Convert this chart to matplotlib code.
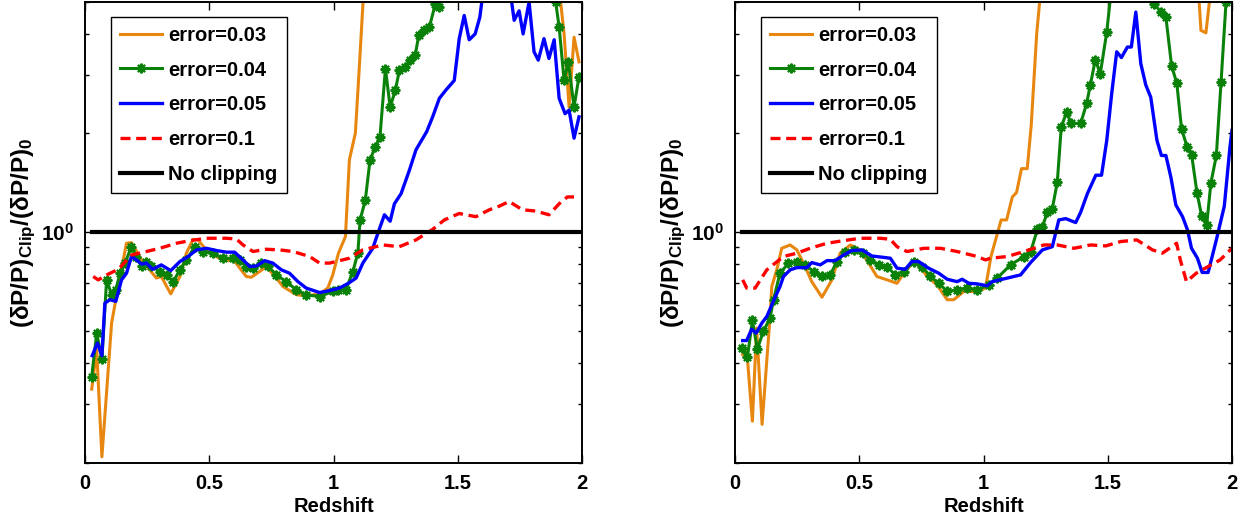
import matplotlib
matplotlib.use("Agg")
import matplotlib.pyplot as plt
import numpy as np
from matplotlib.ticker import LogLocator, NullFormatter

# ---- data (redshift, ratio) ----
# left panel
L_z_03 = [0.027, 0.047, 0.068, 0.107, 0.141, 0.167, 0.187, 0.228, 0.287, 0.307, 0.345, 0.382, 0.408, 0.435,
          0.455, 0.488, 0.52, 0.56, 0.60, 0.649, 0.669, 0.703, 0.729, 0.77, 0.797, 0.851, 0.89, 0.944, 0.977,
          0.997, 1.02, 1.048, 1.064, 1.088, 1.104, 1.13, 1.90, 1.914, 1.928, 1.948, 1.968, 1.988]
L_v_03 = [0.334, 0.44, 0.208, 0.53, 0.734, 0.926, 0.93, 0.824, 0.726, 0.734, 0.65, 0.734, 0.864, 0.952,
          0.948, 0.884, 0.85, 0.82, 0.82, 0.734, 0.73, 0.76, 0.787, 0.726, 0.684, 0.646, 0.641, 0.65, 0.677,
          0.742, 0.864, 0.97, 1.66, 2.0, 3.18, 7.0, 7.0, 5.0, 4.0, 2.4, 3.91, 3.29]

L_z_04 = [0.027, 0.047, 0.068, 0.087, 0.107, 0.124, 0.141, 0.161, 0.187, 0.207, 0.228, 0.247, 0.267, 0.301,
          0.328, 0.355, 0.382, 0.408, 0.442, 0.475, 0.515, 0.555, 0.596, 0.622, 0.649, 0.676, 0.709, 0.736,
          0.77, 0.81, 0.85, 0.89, 0.944, 0.997, 1.02, 1.05, 1.078, 1.098, 1.107, 1.128, 1.147, 1.169, 1.187,
          1.209, 1.228, 1.249, 1.265, 1.289, 1.308, 1.329, 1.343, 1.365, 1.386, 1.41, 1.426, 1.45, 1.88,
          1.894, 1.908, 1.928, 1.945, 1.968, 1.988]
L_v_04 = [0.364, 0.494, 0.412, 0.717, 0.646, 0.669, 0.751, 0.806, 0.904, 0.84, 0.79, 0.815, 0.79, 0.76,
          0.742, 0.708, 0.769, 0.824, 0.904, 0.874, 0.864, 0.834, 0.834, 0.824, 0.787, 0.778, 0.806, 0.79,
          0.742, 0.708, 0.669, 0.646, 0.638, 0.661, 0.669, 0.669, 0.76, 0.864, 1.09, 1.25, 1.66, 1.82, 1.95,
          3.14, 2.4, 2.70, 3.1, 3.18, 3.33, 3.45, 3.96, 4.1, 4.2, 4.94, 4.83, 6.0, 6.0,
          5.0, 4.2, 2.89, 3.29, 2.4, 2.97]

L_z_05 = [0.029, 0.05, 0.068, 0.08, 0.1, 0.124, 0.147, 0.167, 0.187, 0.207, 0.228, 0.247, 0.272, 0.307,
          0.345, 0.382, 0.415, 0.449, 0.489, 0.529, 0.569, 0.602, 0.636, 0.663, 0.69, 0.723, 0.756, 0.79,
          0.823, 0.857, 0.89, 0.944, 0.984, 1.024, 1.06, 1.091, 1.118, 1.158, 1.178, 1.205, 1.228, 1.245,
          1.272, 1.305, 1.332, 1.375, 1.399, 1.426, 1.452, 1.486, 1.506, 1.526, 1.546, 1.57, 1.589, 1.61,
          1.70, 1.717, 1.727, 1.747, 1.763, 1.787, 1.807, 1.824, 1.847, 1.867, 1.888, 1.908, 1.932, 1.948,
          1.968, 1.988]
L_v_05 = [0.422, 0.461, 0.422, 0.609, 0.624, 0.617, 0.717, 0.751, 0.844, 0.824, 0.80, 0.806, 0.772, 0.796,
          0.765, 0.815, 0.844, 0.884, 0.894, 0.88, 0.87, 0.87, 0.824, 0.787, 0.79, 0.82, 0.806, 0.769,
          0.751, 0.708, 0.677, 0.656, 0.665, 0.677, 0.70, 0.726, 0.806, 0.894, 0.99, 1.13, 1.08, 1.22,
          1.31, 1.54, 1.78, 2.02, 2.24, 2.55, 2.70, 2.89, 3.87, 4.55, 3.84, 4.0, 4.5, 6.0,
          6.0, 5.0, 4.4, 4.7, 4.0, 5.0, 3.53, 3.33, 3.87, 3.37, 3.84, 2.55, 2.29, 2.35,
          1.93, 2.24]

L_z_10 = [0.033, 0.053, 0.087, 0.134, 0.187, 0.247, 0.301, 0.368, 0.422, 0.488, 0.569, 0.609, 0.636, 0.676,
          0.729, 0.783, 0.837, 0.904, 0.944, 0.984, 1.064, 1.118, 1.199, 1.265, 1.332, 1.399, 1.446, 1.506,
          1.573, 1.627, 1.667, 1.707, 1.76, 1.813, 1.867, 1.908, 1.941, 1.968]
L_v_10 = [0.734, 0.717, 0.742, 0.772, 0.853, 0.874, 0.894, 0.926, 0.943, 0.959, 0.959, 0.954, 0.915, 0.874,
          0.888, 0.884, 0.874, 0.844, 0.806, 0.806, 0.834, 0.884, 0.915, 0.904, 0.948, 1.02, 1.09, 1.14,
          1.115, 1.17, 1.2, 1.24, 1.17, 1.16, 1.13, 1.22, 1.28, 1.28]

# right panel
R_z_03 = [0.031, 0.047, 0.07, 0.087, 0.109, 0.141, 0.148, 0.168, 0.188, 0.222, 0.249, 0.282, 0.309, 0.35,
          0.39, 0.423, 0.464, 0.504, 0.538, 0.571, 0.612, 0.652, 0.679, 0.726, 0.773, 0.813, 0.854, 0.88,
          0.921, 0.975, 1.008, 1.03, 1.071, 1.093, 1.116, 1.133, 1.153, 1.176, 1.192, 1.214, 1.24, 1.86,
          1.868, 1.875, 1.895, 1.909, 1.93]
R_v_03 = [0.425, 0.44, 0.267, 0.512, 0.261, 0.555, 0.684, 0.769, 0.894, 0.915, 0.884, 0.787, 0.708, 0.635,
          0.717, 0.864, 0.915, 0.884, 0.806, 0.734, 0.717, 0.70, 0.751, 0.824, 0.734, 0.692, 0.624, 0.624,
          0.661, 0.661, 0.677, 0.844, 1.09, 1.09, 1.28, 1.32, 1.56, 1.56, 2.11, 4.0, 6.5, 6.5,
          5.0, 4.1, 4.03, 5.0, 6.5]

R_z_04 = [0.027, 0.05, 0.07, 0.09, 0.114, 0.141, 0.155, 0.181, 0.215, 0.249, 0.282, 0.316, 0.35, 0.383,
          0.41, 0.444, 0.477, 0.517, 0.544, 0.578, 0.612, 0.645, 0.679, 0.719, 0.753, 0.786, 0.82, 0.854,
          0.894, 0.934, 0.975, 1.021, 1.055, 1.109, 1.163, 1.19, 1.217, 1.237, 1.257, 1.277, 1.297, 1.313,
          1.335, 1.351, 1.391, 1.415, 1.43, 1.45, 1.47, 1.496, 1.52, 1.67, 1.687, 1.714, 1.734, 1.757,
          1.778, 1.797, 1.819, 1.838, 1.859, 1.878, 1.898, 1.915, 1.937, 1.956, 1.976, 1.99]
R_v_04 = [0.445, 0.418, 0.54, 0.442, 0.5, 0.549, 0.624, 0.751, 0.806, 0.815, 0.796, 0.76, 0.734, 0.742,
          0.815, 0.874, 0.884, 0.864, 0.824, 0.796, 0.787, 0.742, 0.76, 0.815, 0.787, 0.734, 0.70, 0.661,
          0.669, 0.677, 0.669, 0.692, 0.726, 0.796, 0.844, 0.874, 1.02, 1.04, 1.15, 1.18, 1.42, 2.09,
          2.32, 2.14, 2.14, 2.46, 2.80, 3.34, 3.03, 4.05, 6.0, 6.0, 4.93, 4.66, 4.5, 3.2,
          2.83, 2.06, 1.82, 1.71, 1.32, 1.12, 1.05, 1.41, 1.71, 2.86, 5.0, 6.5]

R_z_05 = [0.031, 0.047, 0.067, 0.085, 0.108, 0.128, 0.157, 0.181, 0.195, 0.222, 0.249, 0.289, 0.309, 0.343,
          0.37, 0.403, 0.437, 0.47, 0.511, 0.551, 0.592, 0.625, 0.652, 0.685, 0.712, 0.739, 0.779, 0.82,
          0.854, 0.894, 0.914, 0.941, 0.975, 1.015, 1.035, 1.096, 1.122, 1.149, 1.19, 1.237, 1.277, 1.303,
          1.331, 1.371, 1.391, 1.418, 1.452, 1.475, 1.496, 1.516, 1.536, 1.555, 1.579, 1.595, 1.613, 1.633,
          1.653, 1.673, 1.698, 1.716, 1.734, 1.754, 1.774, 1.801, 1.821, 1.837, 1.861, 1.88, 1.904, 1.937,
          1.969, 1.992, 2.0]
R_v_05 = [0.469, 0.469, 0.508, 0.494, 0.53, 0.555, 0.624, 0.684, 0.734, 0.769, 0.781, 0.781, 0.809, 0.796,
          0.82, 0.82, 0.853, 0.88, 0.884, 0.847, 0.84, 0.834, 0.778, 0.772, 0.815, 0.815, 0.778, 0.751,
          0.72, 0.708, 0.72, 0.70, 0.697, 0.688, 0.708, 0.726, 0.734, 0.742, 0.81, 0.884, 0.904, 1.09,
          1.10, 1.07, 1.15, 1.31, 1.49, 1.49, 1.90, 2.64, 3.53, 3.39, 3.65, 3.65, 4.66, 3.25,
          2.80, 2.57, 1.90, 1.71, 1.71, 1.47, 1.21, 1.115, 1.016, 0.894, 0.834, 0.755, 0.755, 0.948,
          1.20, 1.82, 2.04]

R_z_10 = [0.031, 0.047, 0.081, 0.128, 0.195, 0.249, 0.302, 0.37, 0.437, 0.504, 0.585, 0.625, 0.652, 0.692,
          0.76, 0.827, 0.894, 0.975, 1.008, 1.028, 1.096, 1.163, 1.243, 1.297, 1.364, 1.431, 1.492, 1.552,
          1.617, 1.68, 1.72, 1.777, 1.792, 1.817, 1.856, 1.904, 1.952, 2.0]
R_v_10 = [0.717, 0.677, 0.677, 0.769, 0.844, 0.864, 0.894, 0.926, 0.943, 0.959, 0.959, 0.952, 0.904, 0.874,
          0.894, 0.894, 0.874, 0.844, 0.824, 0.834, 0.844, 0.874, 0.915, 0.915, 0.894, 0.915, 0.909, 0.937,
          0.948, 0.884, 0.864, 0.926, 0.824, 0.708, 0.751, 0.787, 0.824, 0.894]

L_z_ref = [0.03, 1.99]
R_z_ref = [0.03, 2.0]
ref_v = [1.0, 1.0]

labels = ["error=0.03", "error=0.04", "error=0.05", "error=0.1", "No clipping"]
xticks = [0, 0.5, 1, 1.5, 2]
xticklabels = ["0", "0.5", "1", "1.5", "2"]

plt.rcParams["font.family"] = ["Liberation Sans", "DejaVu Sans"]
plt.rcParams["font.weight"] = "bold"
plt.rcParams["mathtext.fontset"] = "custom"
plt.rcParams["mathtext.rm"] = "Liberation Sans:bold"
plt.rcParams["mathtext.bf"] = "Liberation Sans:bold"
plt.rcParams["mathtext.it"] = "Liberation Sans:bold"

FS = 14


def draw_panel(ax, z03, v03, z04, v04, z05, v05, z10, v10, zref, leg_x):
    ax.plot(z03, v03, color="#E8870F", lw=2.2, label=labels[0])
    ax.plot(z04, v04, color="#0A820A", lw=2.2, marker=(8, 2, 0), ms=7, mew=1.5, label=labels[1])
    ax.plot(z05, v05, color="#0000FF", lw=2.4, label=labels[2])
    ax.plot(z10, v10, color="#FF0000", lw=2.4, dashes=(3, 1.7), label=labels[3])
    ax.plot(zref, ref_v, color="black", lw=3, label=labels[4])

    ax.set_yscale("log")
    ax.set_xlim(0, 2)
    ax.set_ylim(0.2, 5)
    ax.set_xticks(xticks)
    ax.set_xticklabels(xticklabels, fontweight="bold", fontsize=FS + 0.5)
    ax.set_yticks([1])
    ax.set_yticklabels([r"$\mathbf{10^0}$"], fontsize=FS + 1)
    ax.yaxis.set_minor_locator(LogLocator(base=10, subs=np.arange(2, 10)))
    ax.yaxis.set_minor_formatter(NullFormatter())
    ax.tick_params(which="both", direction="in", top=True, right=True, width=1)
    ax.tick_params(which="major", length=6, pad=8)
    ax.tick_params(which="minor", length=3)
    for s in ax.spines.values():
        s.set_linewidth(1.4)

    ax.set_xlabel("Redshift", fontweight="bold", fontsize=FS + 0.5, labelpad=3)
    ax.set_ylabel(r"$\mathbf{(\delta P/P)_{Clip}/(\delta P/P)_0}$", fontsize=17.5)
    ax.yaxis.set_label_coords(-0.095, 0.5)

    leg = ax.legend(loc="upper left", bbox_to_anchor=(leg_x, 0.968), prop={"weight": "bold", "size": FS + 0.5},
                    frameon=True, fancybox=False, framealpha=1, edgecolor="black", handlelength=2.1,
                    handletextpad=0.3, labelspacing=0.78, borderpad=0.45, borderaxespad=0)
    leg.get_frame().set_linewidth(1.0)


fig = plt.figure(figsize=(12.4, 5.23), dpi=100)
ax1 = fig.add_axes([85 / 1240, 60.5 / 523, 497 / 1240, 460.5 / 523])
ax2 = fig.add_axes([735 / 1240, 60.5 / 523, 497 / 1240, 460.5 / 523])

draw_panel(ax1, L_z_03, L_v_03, L_z_04, L_v_04, L_z_05, L_v_05, L_z_10, L_v_10, L_z_ref, 0.052)
draw_panel(ax2, R_z_03, R_v_03, R_z_04, R_v_04, R_z_05, R_v_05, R_z_10, R_v_10, R_z_ref, 0.052)

fig.savefig("out.png", dpi=100)
